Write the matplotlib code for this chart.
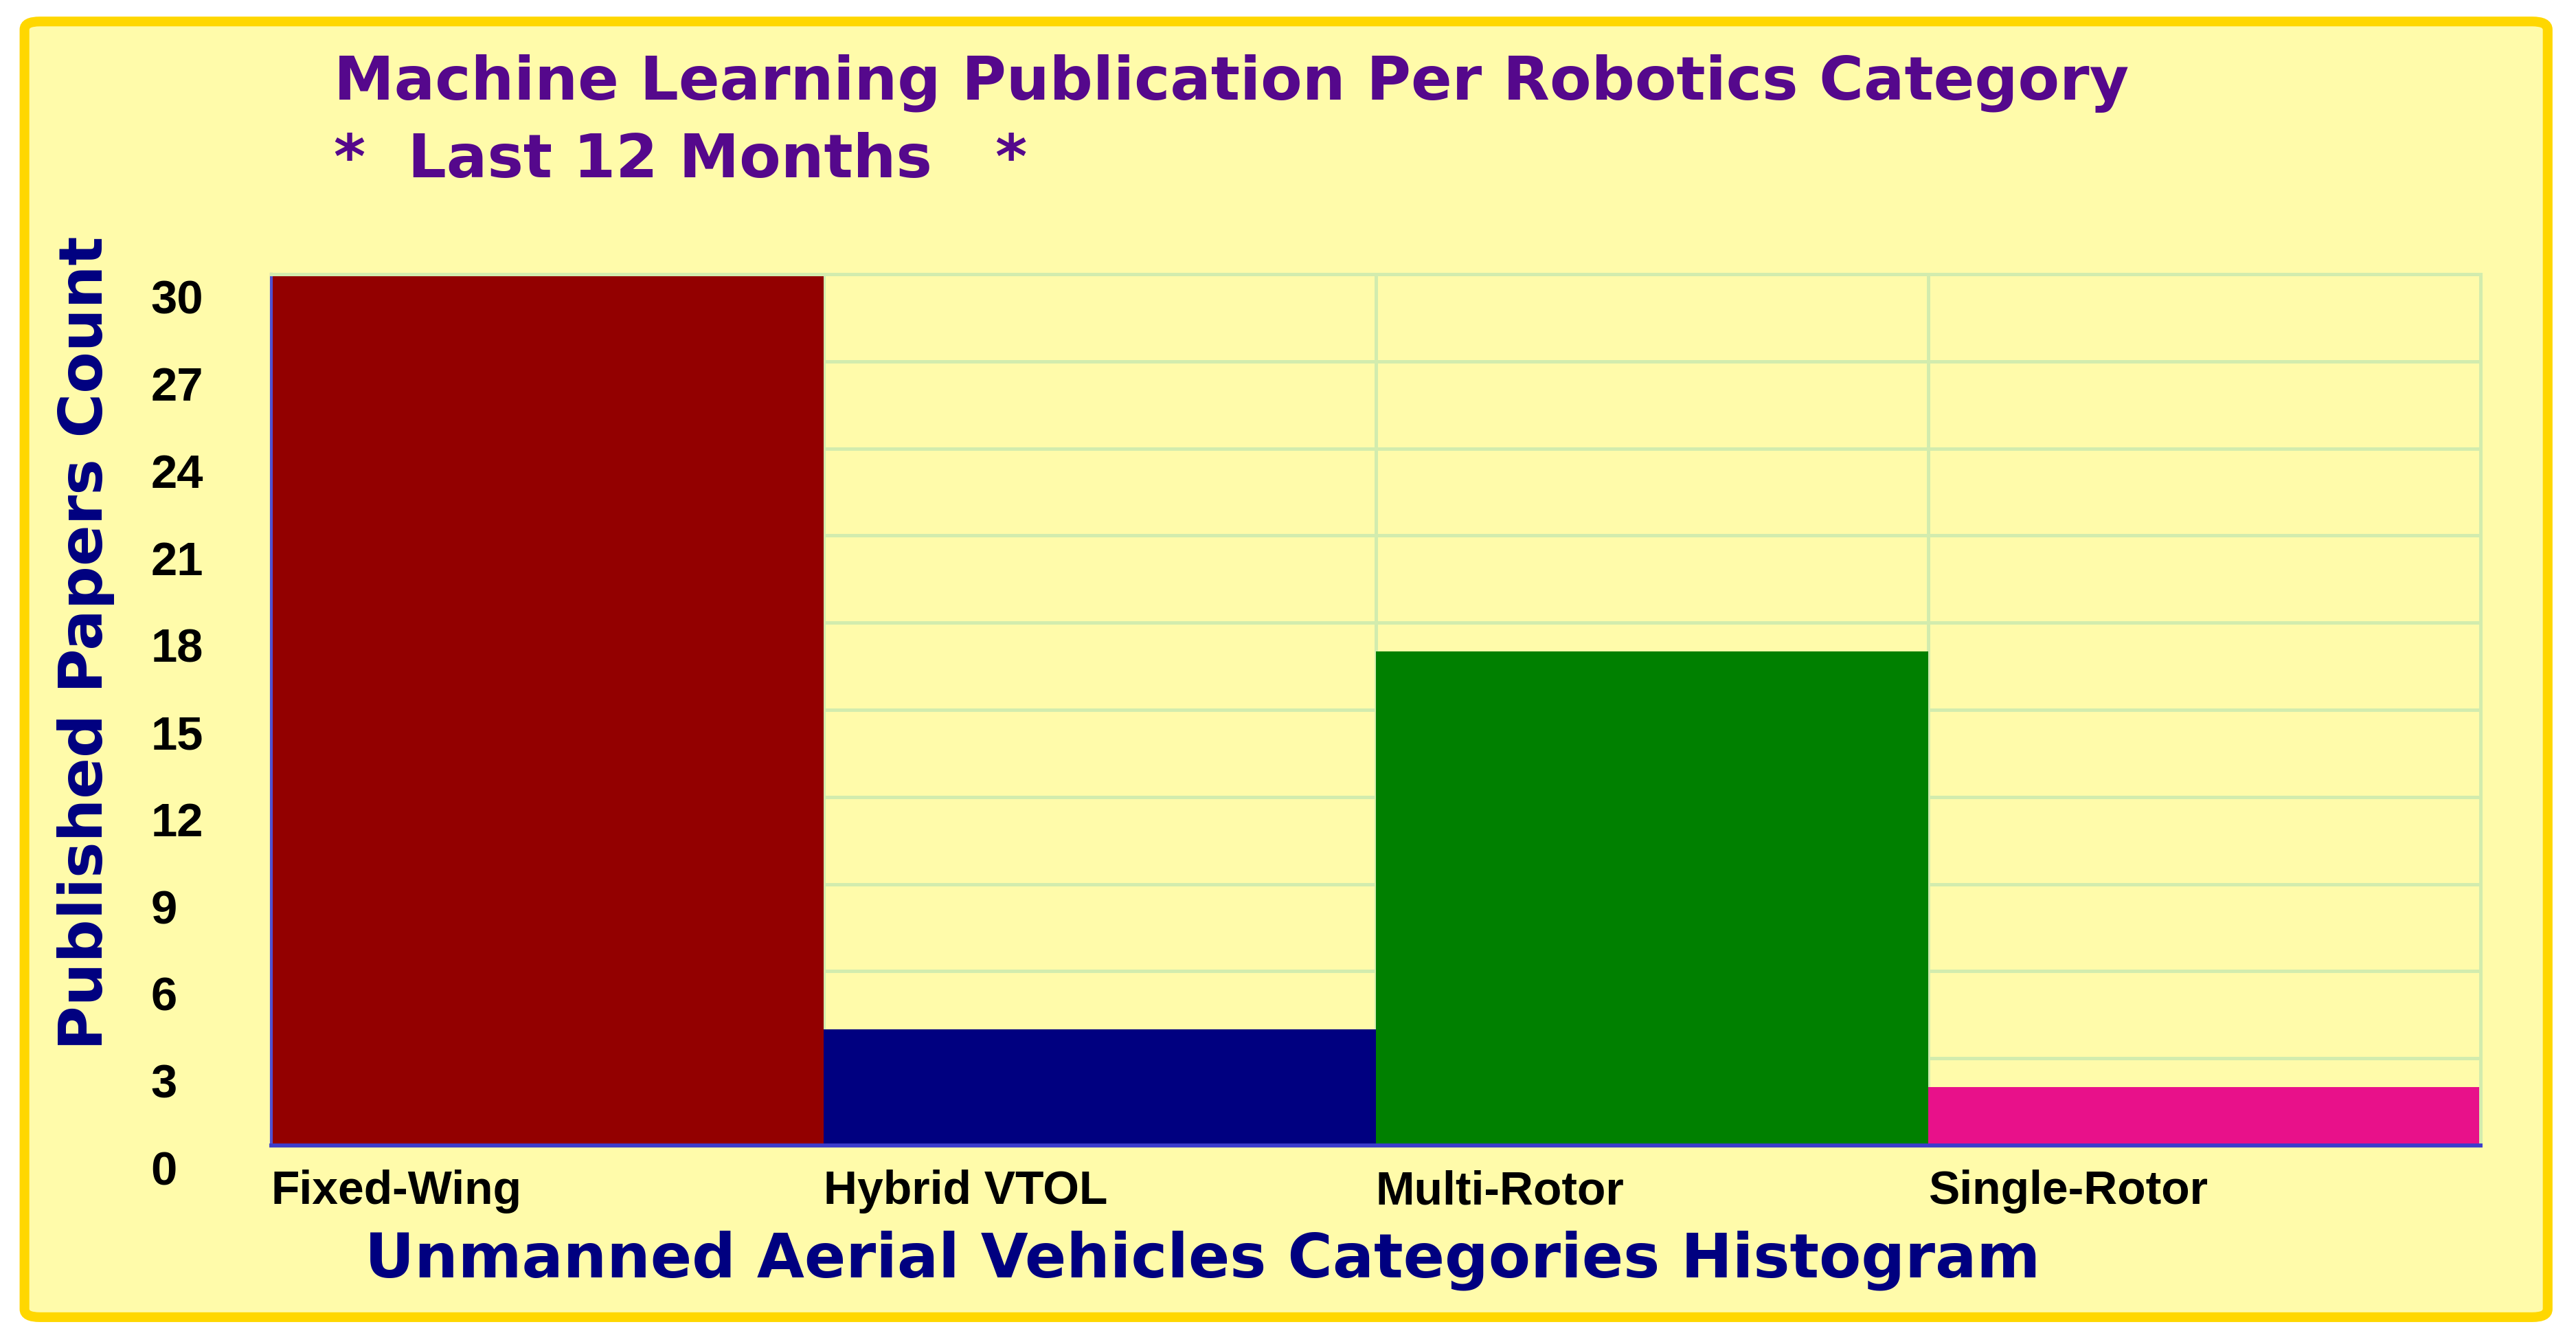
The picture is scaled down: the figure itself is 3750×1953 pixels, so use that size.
import matplotlib
matplotlib.use("Agg")
import matplotlib.pyplot as plt
from matplotlib import transforms
from matplotlib.patches import FancyBboxPatch

# data
categories = ["Fixed-Wing", "Hybrid VTOL", "Multi-Rotor", "Single-Rotor"]
paper_counts = [30, 4, 17, 2]
bar_colors = ["#930000", "#000080", "#008000", "#e8118a"]
y_ticks = [0, 3, 6, 9, 12, 15, 18, 21, 24, 27, 30]

title_lines = ["Machine Learning Publication Per Robotics Category",
               "*  Last 12 Months   *"]
x_title = "Unmanned Aerial Vehicles Categories Histogram"
y_title = "Published Papers Count"

bg = "#fffbaa"
gold = "#ffd700"
grid_green = "#d2ecae"
purple = "#55088c"
navy = "#000080"

fig = plt.figure(figsize=(12.5, 6.51), dpi=300)
fig.patch.set_facecolor("white")

# gold rounded frame
frame = FancyBboxPatch((0.0095, 0.0185), 0.9795, 0.9655,
                       boxstyle="round,pad=0,rounding_size=0.006",
                       transform=fig.transFigure, facecolor=bg,
                       edgecolor=gold, linewidth=3.4, zorder=-10)
fig.patches.append(frame)

ax = fig.add_axes([0.1053, 0.1465, 0.8576, 0.6492])
ax.set_zorder(1)
ax.set_facecolor(bg)

xs = list(range(len(categories)))
ax.bar(xs, paper_counts, width=1.0, align="edge", color=bar_colors,
       linewidth=0, zorder=3)

ax.set_xlim(0, len(categories))
ax.set_ylim(0, 30)

# grid
ax.set_axisbelow(True)
ax.set_yticks(y_ticks)
ax.set_xticks(xs + [len(categories)])
ax.grid(True, color=grid_green, linewidth=1.2, zorder=0)

# x tick labels start at the left edge of each category
ax.set_xticklabels(categories + [""])
ax.tick_params(axis="x", length=0, pad=8.5, labelsize=16.3, labelcolor="black")
for lab in ax.get_xticklabels():
    lab.set_ha("left")
    lab.set_family("Liberation Sans")
    lab.set_fontweight("bold")

# y tick labels sit just under their gridline, left aligned
ax.tick_params(axis="y", length=0, labelleft=False)
below = transforms.offset_copy(ax.get_yaxis_transform(), fig=fig,
                               x=0, y=-9.5, units="points")
for v in y_ticks:
    ax.text(-0.0545, v, str(v), transform=below, ha="left", va="center",
            fontsize=16.5, fontweight="bold", family="Liberation Sans",
            color="black", clip_on=False)

# spines
ax.spines["left"].set_color("#5050d0")
ax.spines["left"].set_linewidth(1.0)
ax.spines["bottom"].set_color("#3c3ccc")
ax.spines["bottom"].set_linewidth(1.4)
ax.spines["top"].set_color(grid_green)
ax.spines["top"].set_linewidth(1.2)
ax.spines["right"].set_color(grid_green)
ax.spines["right"].set_linewidth(1.2)
for s in ax.spines.values():
    s.set_zorder(4)

# axis titles
ax.set_xlabel(x_title, fontsize=21.4, fontweight="bold", color=navy,
              family="DejaVu Sans")
ax.xaxis.set_label_coords(0.4216, -0.132)
ax.xaxis.label.set_va("center")
ax.set_ylabel(y_title, fontsize=21.2, fontweight="bold", color=navy,
              family="DejaVu Sans")
ax.yaxis.set_label_coords(-0.084, 0.577)
ax.yaxis.label.set_va("center")

# chart title, two left-aligned lines
fig.text(0.1295, 0.926, title_lines[0], fontsize=21.2, fontweight="bold",
         color=purple, family="DejaVu Sans", va="baseline", ha="left")
fig.text(0.1295, 0.868, title_lines[1], fontsize=21.2, fontweight="bold",
         color=purple, family="DejaVu Sans", va="baseline", ha="left")

fig.savefig("out.png", dpi=300, facecolor=fig.get_facecolor())
